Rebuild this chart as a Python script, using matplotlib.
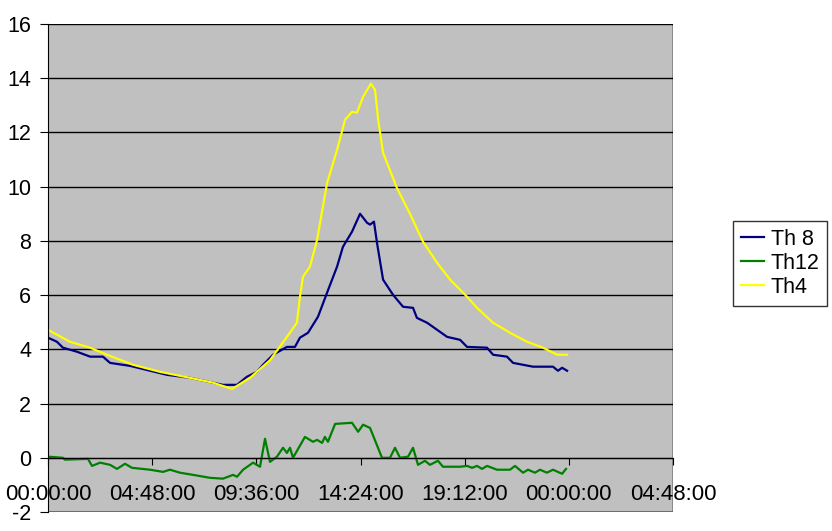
import matplotlib.pyplot as plt
from matplotlib.patches import Rectangle
from matplotlib.ticker import FuncFormatter, MultipleLocator

# Th 8 (hours, value)
th8_t = [0, 0.41, 0.69, 1.34, 1.94, 2.53, 2.86, 3.78, 5.48, 6.54, 7.60, 8.06, 8.71,
         9.17, 9.63, 9.91, 10.37, 11.01, 11.38, 11.61, 11.98, 12.44, 12.86, 13.32,
         13.59, 14.01, 14.38, 14.70, 14.84, 15.02, 15.16, 15.44, 15.90, 16.36, 16.82,
         17.00, 17.47, 18.39, 18.99, 19.31, 20.23, 20.51, 21.15, 21.43, 22.35, 23.27,
         23.50, 23.69, 23.92]
th8_v = [4.43, 4.28, 4.06, 3.91, 3.73, 3.73, 3.50, 3.39, 3.06, 2.95, 2.77, 2.69, 2.69,
         2.99, 3.17, 3.43, 3.80, 4.09, 4.09, 4.43, 4.61, 5.20, 6.09, 7.05,
         7.78, 8.34, 9.00, 8.67, 8.60, 8.71, 7.93, 6.57, 6.01, 5.57, 5.53,
         5.16, 4.98, 4.46, 4.35, 4.09, 4.06, 3.80, 3.73, 3.50, 3.36, 3.36,
         3.21, 3.32, 3.21]

# Th12
th12_t = [0, 0.69, 0.78, 1.84, 2.03, 2.40, 2.86, 3.18, 3.55, 3.87, 4.70, 5.30, 5.62,
          6.08, 6.68, 7.47, 8.06, 8.53, 8.71, 8.99, 9.45, 9.77, 10.00, 10.23, 10.55,
          10.83, 11.01, 11.15, 11.29, 11.84, 12.21, 12.40, 12.63, 12.76, 12.90, 13.23,
          14.01, 14.29, 14.52, 14.84, 15.39, 15.76, 15.99, 16.22, 16.59, 16.82, 17.05,
          17.37, 17.60, 17.97, 18.20, 18.99, 19.31, 19.54, 19.77, 20.00, 20.23, 20.69,
          21.29, 21.52, 21.89, 22.12, 22.44, 22.67, 22.99, 23.27, 23.69, 23.87]
th12_v = [0.04, 0.0, -0.07, -0.04, -0.30, -0.18, -0.26, -0.41, -0.22, -0.37, -0.44, -0.52, -0.44,
          -0.55, -0.63, -0.74, -0.77, -0.63, -0.70, -0.44, -0.18, -0.33, 0.70, -0.15, 0.04,
          0.37, 0.18, 0.37, 0.0, 0.77, 0.59, 0.66, 0.55, 0.77, 0.59, 1.25,
          1.29, 0.96, 1.22, 1.10, 0.0, 0.0, 0.37, 0.0, 0.04, 0.37, -0.26,
          -0.11, -0.26, -0.11, -0.33, -0.33, -0.30, -0.37, -0.30, -0.41, -0.30, -0.44,
          -0.44, -0.30, -0.55, -0.44, -0.55, -0.44, -0.55, -0.44, -0.59, -0.41]

# Th4
th4_t = [0, 1.01, 1.94, 2.72, 3.92, 5.16, 6.54, 7.60, 8.48, 9.31, 10.23, 11.01, 11.47,
         11.61, 11.75, 12.07, 12.40, 12.86, 13.32, 13.69, 14.01, 14.24, 14.52, 14.88,
         15.07, 15.21, 15.44, 16.08, 16.68, 17.28, 17.93, 18.53, 19.31, 19.77, 20.51,
         21.29, 22.07, 22.81, 23.46, 23.92]
th4_v = [4.72, 4.28, 4.06, 3.80, 3.43, 3.17, 2.95, 2.77, 2.54, 2.95, 3.60, 4.46, 4.98,
         5.94, 6.68, 7.05, 8.04, 10.14, 11.36, 12.47, 12.76, 12.73, 13.32, 13.80,
         13.57, 12.50, 11.25, 9.95, 9.00, 7.97, 7.19, 6.57, 5.94, 5.53, 4.98,
         4.61, 4.28, 4.06, 3.80, 3.80]

plt.rcParams['font.family'] = ['Liberation Sans', 'DejaVu Sans']
plt.rcParams['axes.unicode_minus'] = False

fig = plt.figure(figsize=(8.32, 5.31), dpi=100)
ax = fig.add_axes([48 / 832, 1 - 512 / 531, 625 / 832, 488 / 531])
ax.set_facecolor('#C0C0C0')

ax.plot(th8_t, th8_v, color='#000080', lw=1.6, label='Th 8')
ax.plot(th12_t, th12_v, color='#008000', lw=1.6, label='Th12')
ax.plot(th4_t, th4_v, color='#FFFF00', lw=1.6, label='Th4')

ax.set_xlim(0, 28.8)
ax.set_ylim(-2, 16)
ax.yaxis.set_major_locator(MultipleLocator(2))
ax.xaxis.set_major_locator(MultipleLocator(4.8))


def hms(h, pos):
    m = int(round(h * 60)) % (24 * 60)
    return '%02d:%02d:00' % (m // 60, m % 60)


ax.xaxis.set_major_formatter(FuncFormatter(hms))
ax.yaxis.grid(True, color='black', lw=1)
ax.set_axisbelow(True)

for s in ['top', 'right']:
    ax.spines[s].set_visible(False)
ax.spines['bottom'].set_position(('data', 0))
ax.spines['bottom'].set_color('black')
ax.spines['left'].set_color('black')
ax.add_patch(Rectangle((0, 0), 1, 1, transform=ax.transAxes, fill=False,
                       edgecolor='#808080', lw=1.2, zorder=0.5))

ax.tick_params(axis='y', direction='out', length=6, pad=6, labelsize=15.5)
ax.tick_params(axis='x', direction='out', length=5, pad=14, labelsize=16)

leg = fig.legend(loc='upper left', bbox_to_anchor=(733 / 832, 1 - 221 / 531),
                 fontsize=15.5, frameon=True, fancybox=False, edgecolor='black',
                 handlelength=1.1, handletextpad=0.3, borderpad=0.35,
                 labelspacing=0.15, borderaxespad=0)
leg.get_frame().set_linewidth(1)

fig.savefig('out.png', dpi=100)
